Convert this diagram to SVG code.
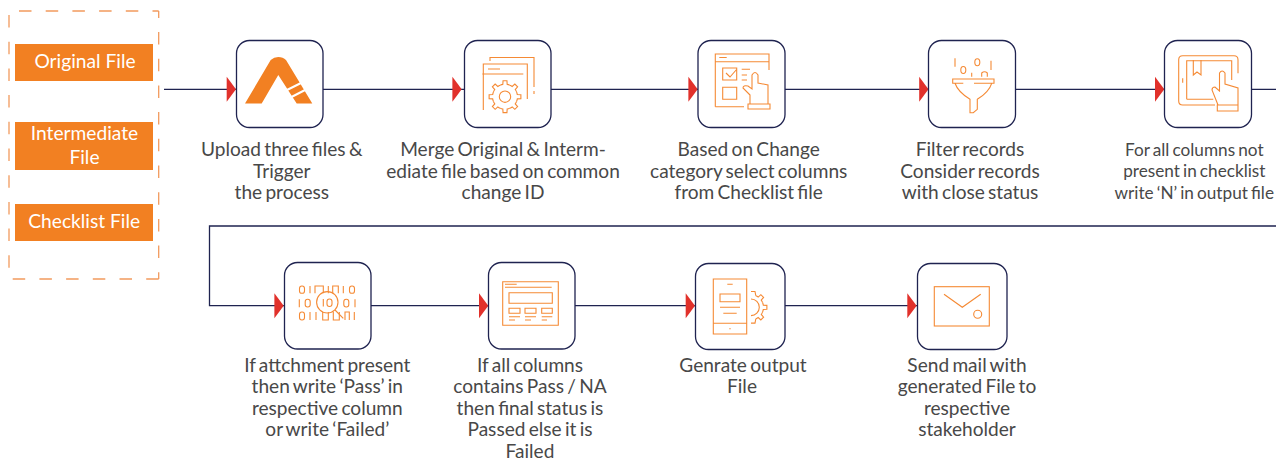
<svg xmlns="http://www.w3.org/2000/svg" width="1276" height="461" viewBox="0 0 1276 461">
<style>
.box{fill:#fff;stroke:#1f2350;stroke-width:1.3}
.conn{fill:none;stroke:#1f2350;stroke-width:1.3}
.head{fill:#e1312b}
.fill{fill:#f28022}
.ic{fill:none;stroke:#f58a35;stroke-width:1.100}
.lab{font-family:Lato,"Liberation Sans",sans-serif;font-size:19.1px;word-spacing:-1.6px;fill:#484848;text-anchor:middle;font-variant-ligatures:common-ligatures;text-rendering:optimizeLegibility}
.small{font-size:17.2px;word-spacing:-1.3px}
.file{font-family:Lato,"Liberation Sans",sans-serif;font-size:19.2px;fill:#fff;text-anchor:middle}
</style>
<defs>
<path id="h" class="head" d="M0-12.500L9.300 0L0 12.500Z"/>
<path id="g" class="ic" d="M11.550-4.780A12.500 12.500 0 0 1 12.310-2.170L15.880-1.950V1.950L12.310 2.170A12.500 12.500 0 0 1 11.550 4.780"/>
</defs>
<path fill="none" stroke="#f29a5e" stroke-width="1.300" stroke-dasharray="12.500 14.200" d="M158.700 279H9M9 15V279M19 11H158.700M158.700 32V279M158.700 11V18"/>
<g id="connectors">
<path class="conn" d="M164 89.300H1276M1276 226H209.500V305.700H917"/>
<use href="#h" x="226.700" y="89.300"/>
<use href="#h" x="452.400" y="89.300"/>
<use href="#h" x="688.400" y="89.300"/>
<use href="#h" x="919.200" y="89.300"/>
<use href="#h" x="1155" y="89.300"/>
<use href="#h" x="274.400" y="305.700"/>
<use href="#h" x="479" y="305.700"/>
<use href="#h" x="685.700" y="305.700"/>
<use href="#h" x="907.300" y="305.700"/>
</g>
<g id="file1"><rect class="fill" x="15" y="44" width="138" height="37"/><text class="file" x="85" y="68">Original File</text></g>
<g id="file2"><rect class="fill" x="15" y="122" width="138" height="48"/><text class="file" x="84.500" y="140">Intermediate</text><text class="file" x="84.500" y="163.500">File</text></g>
<g id="file3"><rect class="fill" x="15" y="204" width="138" height="37"/><text class="file" x="84.200" y="227.500">Checklist File</text></g>
<g id="n1"><rect class="box" x="236.500" y="40.500" width="86.500" height="87" rx="13"/>
<path class="fill" d="M245 103.500L270.700 60Q274 57 278.300 57Q283 57 286 60L312.300 103.500H296.700L278.300 75L261.700 103.500Z"/>
<path d="M287 90L303 82M291.500 97L307 89" stroke="#fff" stroke-width="2"/>
<text class="lab" x="281.800" y="156">Upload three files &amp;</text><text class="lab" x="281.800" y="177.500">Trigger</text><text class="lab" x="281.800" y="199">the process</text></g>
<g id="n2"><rect class="box" x="464.500" y="40.500" width="86.500" height="87" rx="13"/>
<path class="ic" d="M490 61V57.500H534V87M534 91V94M527.300 99V64H483.300V110M482.300 74H523.300M488 69H500"/>
<circle class="ic" cx="505" cy="96.700" r="5.700"/>
<g transform="translate(505 96.700)"><use href="#g"/><use href="#g" transform="rotate(45)"/><use href="#g" transform="rotate(90)"/><use href="#g" transform="rotate(135)"/><use href="#g" transform="rotate(180)"/><use href="#g" transform="rotate(225)"/><use href="#g" transform="rotate(270)"/><use href="#g" transform="rotate(315)"/></g>
<text class="lab" x="503" y="156">Merge Original &amp; Interm-</text><text class="lab" x="503" y="177.500">ediate file based on common</text><text class="lab" x="503" y="199">change ID</text></g>
<g id="n3"><rect class="box" x="698" y="40.500" width="87" height="87" rx="13"/>
<path class="ic" d="M715.300 106.700V54H769V70M715.300 61.700H769M719.300 57.500H726.700M722.700 68H736.700V80H722.700ZM722.700 87.300H736.700V99.300H722.700ZM726 73L730 77L737 69M741.700 69.300H750M741.700 75H747M741.700 80H747M715.300 106.700H744"/>
<path class="ic" d="M750 95L743 88Q743 85 748 86L752 89V75Q755 70 758 75V83L768 85V104H750ZM748 104H770V109H748Z"/>
<text class="lab" x="748.700" y="156">Based on Change</text><text class="lab" x="748.700" y="177.500">category select columns</text><text class="lab" x="748.700" y="199">from Checklist file</text></g>
<g id="n4"><rect class="box" x="928.500" y="40.500" width="87" height="87" rx="13"/>
<path class="ic" d="M955 58.300V66.700M991 60.700V70M971.700 72.700V76.700M955 83.300H952.700V79H994V83.300H974M963.300 83.300H955Q958 92 970 99.300V112.700H973.300L977.300 109.300V99.300Q989 92 991.700 83.300"/>
<ellipse class="ic" cx="963.300" cy="70" rx="2.500" ry="3.500"/><ellipse class="ic" cx="977.300" cy="62.300" rx="2.500" ry="3.500"/>
<path class="ic" d="M981.700 76.700V73Q984.500 70.500 987.300 73V76.700"/>
<text class="lab" x="970" y="156">Filter records</text><text class="lab" x="970" y="177.500">Consider records</text><text class="lab" x="970" y="199">with close status</text></g>
<g id="n5"><rect class="box" x="1164.500" y="40.500" width="87" height="87" rx="13"/>
<path class="ic" d="M1238 73.300V59.700Q1238 55.700 1234 55.700H1182.700Q1178.700 55.700 1178.700 59.700V101Q1178.700 105 1182.700 105H1215M1182.700 78.300V82.700M1186.700 99.300V60.700H1231.700V80M1186.700 99.300H1213.300M1193.300 60V75L1197 72L1201 75V60"/>
<path class="ic" d="M1218 105L1212 90Q1212 87 1215 87L1219.500 91V73Q1222 69 1225 73V84L1238 88V105ZM1217.300 105H1238V111H1217.300Z"/>
<text class="lab small" x="1194.300" y="155.500">For all columns not</text><text class="lab small" x="1194.300" y="177">present in checklist</text><text class="lab small" x="1194.300" y="198.500">write ‘N’ in output file</text></g>
<g id="n6"><rect class="box" x="284.500" y="262.500" width="86.500" height="86.500" rx="13"/>
<circle class="ic" cx="327.300" cy="302.300" r="10.700"/><path class="ic" d="M335 310L343.300 318.300"/>
<path class="ic" d="M310 286V293.300M315 293.300V286H323.300V293.300M328.300 286V293.300M332.700 293.300V286H338.300V293.300M343.300 286V293.300M299.300 299.300V307.300M323.300 299V306.500M355 299.300V307.300M310 312V320M316 312V320M322.700 312V320H328.300V312M333.300 312V320H339.300V312M345 320V312H349.300V320M354.300 312V320"/>
<g class="ic"><rect x="299.500" y="286" width="5" height="7.300" rx="2.400"/><rect x="349.500" y="286" width="5" height="7.300" rx="2.400"/><rect x="305.200" y="299.300" width="5" height="7.700" rx="2.400"/><rect x="327" y="299" width="5" height="7.500" rx="2.400"/><rect x="343.800" y="299.300" width="5" height="7.700" rx="2.400"/><rect x="299.500" y="312" width="5" height="8" rx="2.400"/></g>
<text class="lab" x="327.300" y="371.700">If attchment present</text><text class="lab" x="327.300" y="393">then write ‘Pass’ in</text><text class="lab" x="327.300" y="414.500">respective column</text><text class="lab" x="327.300" y="436">or write ‘Failed’</text></g>
<g id="n7"><rect class="box" x="488.500" y="262.500" width="86.500" height="86.500" rx="13"/>
<path class="ic" d="M502.700 281.700H558.300V325.300H502.700ZM505 287.300H551.700M509 292.700H552.300V303.300H509ZM509 308.300H520V313.300H509ZM525 308.300H536V313.300H525ZM541.700 308.300H552.300V313.300H541.700ZM509 316.700H520M525 316.700H536M541.700 316.700H552.300M509 320H515M525 320H531M541.700 320H547M505 284.300H516.700"/>
<text class="lab" x="530" y="371.700">If all columns</text><text class="lab" x="530" y="393">contains Pass / NA</text><text class="lab" x="530" y="414.500">then final status is</text><text class="lab" x="530" y="436">Passed else it is</text><text class="lab" x="530" y="458">Failed</text></g>
<g id="n8"><rect class="box" x="695.500" y="263.500" width="89.500" height="86" rx="13"/>
<path class="ic" d="M713.300 279H746.700V334H713.300ZM713.300 323.300H746.700M727.300 284.300H732.700M720 294H740V301.700H720ZM720 307.300H740M723.300 313.300H736.700M729.300 328.700H730.700"/>
<path class="ic" d="M751 299A8.300 8.300 0 0 1 751 315.600M755.800 295.750L755 291.500H751M755.800 318.850L755 323.100H751"/>
<g transform="translate(751 307.300)"><use href="#g" transform="rotate(-45)"/><use href="#g"/><use href="#g" transform="rotate(45)"/></g>
<text class="lab" x="743" y="371.700">Genrate output</text><text class="lab" x="742" y="393">File</text></g>
<g id="n9"><rect class="box" x="917.500" y="263.500" width="89.500" height="86" rx="13"/>
<rect class="ic" x="934.300" y="286.700" width="55" height="39.300"/><path class="ic" d="M944 294.300L962.300 307.300L980.700 294.300"/><circle class="ic" cx="977.700" cy="314.300" r="4"/>
<text class="lab" x="967" y="371.700">Send mail with</text><text class="lab" x="967" y="393">generated File to</text><text class="lab" x="967" y="414.500">respective</text><text class="lab" x="967" y="436">stakeholder</text></g>
</svg>
